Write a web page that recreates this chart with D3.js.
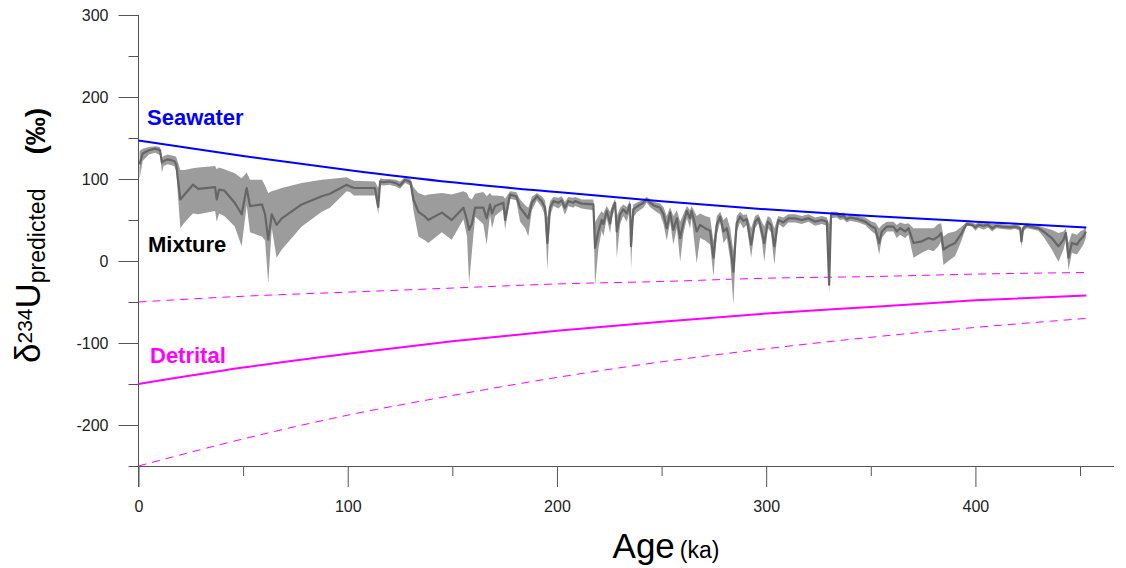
<!DOCTYPE html>
<html>
<head>
<meta charset="utf-8">
<script src="https://cdn.jsdelivr.net/npm/d3@7"></script>
<style>
  body { margin: 0; background: #fff; }
  svg text { font-family: "Liberation Sans", Arial, sans-serif; }
  .axis path, .axis line { stroke: #555; }
  .axis text { font-size: 16px; fill: #222; }
</style>
</head>
<body>
<svg id="chart" width="1126" height="568"></svg>
<script>
  const width = 1126, height = 568;
  const svg = d3.select("#chart");

  // end-member curves (age in ka, value in per mil)
  const curveAge   = [0, 50, 100, 150, 200, 250, 300, 350, 400, 453];
  const seawater   = [147, 128, 111, 96, 84, 73, 63, 55, 48, 41];
  const detrital   = [-150, -130, -113, -98, -85, -74, -64, -56, -48, -42];
  const detritalHi = [-50, -43, -38, -33, -28, -25, -21, -19, -16, -14];
  const detritalLo = [-250, -217, -188, -164, -142, -123, -107, -93, -81, -70];

  // mixture record: age, mean, lower and upper bound
  const mixAge = [0.5, 2, 5, 8, 10.3, 11.2, 12, 14, 17, 18, 20, 22, 26, 28.6, 36.6, 37.4, 38.5, 41, 46, 49.3,
    51.7, 53.3, 59, 60.5, 62, 63.7, 66, 68.5, 78, 87.6, 91.5, 99.5, 101, 103, 113, 114.6, 115.5, 117, 120, 123,
    125, 127.4, 130, 131.4, 133.8, 137, 138.5, 145, 149.7, 155.3, 157, 158, 159.3, 160.9, 164.8, 166.4, 168, 169, 170.4, 174.4,
    175.2, 177.6, 180.5, 182.4, 184.8, 186.3, 188, 190.4, 192.7, 194.3, 195.4, 196.7, 198.3, 200.7, 202.3, 203.8, 205.4, 207.8, 208.7, 211.9,
    217.4, 218.2, 219.8, 221.4, 222.2, 223.8, 225.4, 226.5, 227.8, 228.6, 230.2, 231.7, 233.4, 234.9, 235.4, 236.5, 238.1, 241.3, 242.9, 244.5,
    246.9, 249.3, 250.9, 252.5, 254.1, 255.6, 257.3, 258.9, 260.4, 262.1, 263.6, 264.4, 266.8, 268.4, 270.8, 273.2, 274.8, 276.4, 278, 279.6,
    281.2, 282.8, 284.3, 285.9, 287.5, 289.1, 290.7, 292.8, 294.7, 296.3, 297.9, 299.1, 300.8, 302.3, 303.9, 305.8, 308.2, 310.6, 313.8, 317,
    320.2, 323.4, 326.6, 329, 330.1, 331, 333.7, 335.3, 336.9, 338.5, 340.1, 344.1, 347.3, 350.5, 352.1, 354, 355.3, 357.7, 360.8, 362.4,
    364, 366.4, 368, 370.4, 374.4, 377.6, 380, 382.3, 383.6, 384.7, 387.1, 390.3, 393.5, 395.1, 395.9, 398.3, 400, 401.5, 404, 406,
    408, 410, 412.6, 416.6, 419, 421.4, 422, 422.8, 424.6, 428, 430.1, 432.5, 436.5, 439.7, 442.1, 443.2, 444.5, 446.1, 448.5, 450.1,
    451.6, 452.8];
  const mixMid = [118, 131, 135, 137, 135, 120, 122, 124, 122, 118, 75, 81, 93, 88, 90, 75, 87, 86, 71, 57,
    89, 67, 69, 57, 26, 57, 44, 52, 69, 79, 82, 93, 91, 89, 89, 66, 97, 96, 97, 95,
    92, 99, 96, 75, 60, 54, 50, 59, 50, 65, 50, 38, 45, 65, 65, 52, 69, 58, 67, 71,
    50, 81, 79, 65, 57, 52, 71, 79, 73, 65, 22, 65, 73, 71, 74, 65, 73, 71, 73, 70,
    69, 16, 36, 50, 45, 61, 46, 63, 71, 36, 57, 63, 58, 69, 18, 63, 66, 71, 75, 71,
    67, 65, 57, 40, 59, 38, 52, 28, 46, 61, 52, 61, 36, 44, 40, 37, 4, 44, 54, 36,
    40, 20, -13, 46, 54, 49, 51, 20, 48, 52, 36, 22, 48, 44, 18, 50, 47, 52, 52, 50,
    52, 48, 50, 48, -29, 57, 57, 54, 55, 51, 53, 51, 48, 42, 40, 22, 36, 42, 42, 36,
    40, 36, 40, 22, 24, 28, 26, 30, 34, 14, 18, 22, 34, 42, 45, 44, 41, 44, 43, 44,
    40, 43, 42, 41, 42, 40, 24, 40, 43, 41, 40, 36, 28, 18, 26, 34, 4, 22, 20, 26,
    30, 36];
  const mixLo = [100, 122, 130, 132, 129, 108, 116, 118, 116, 110, 40, 47, 58, 57, 61, 48, 58, 55, 42, 18,
    68, 35, 30, 25, -27, 40, 4, 14, 42, 60, 65, 85, 84, 80, 80, 57, 93, 92, 93, 91,
    88, 95, 92, 62, 30, 25, 22, 35, 26, 51, 30, -27, 10, 54, 45, 20, 56, 40, 55, 63,
    38, 76, 74, 48, 40, 30, 62, 74, 66, 55, -11, 55, 67, 64, 68, 56, 67, 65, 67, 64,
    62, -31, 15, 37, 30, 52, 34, 55, 64, 4, 45, 55, 48, 62, -11, 53, 59, 65, 71, 66,
    61, 57, 45, 25, 48, 20, 40, -1, 33, 52, 40, 52, -3, 28, 25, 20, -19, 32, 48, 22,
    28, 2, -53, 35, 47, 40, 44, 4, 40, 46, 25, -1, 40, 35, -5, 45, 41, 47, 47, 45,
    48, 43, 45, 43, -40, 52, 53, 50, 51, 47, 49, 47, 44, 36, 33, 8, 28, 36, 36, 28,
    32, 28, 32, 4, 10, 14, 12, 18, 24, -5, 0, 6, 26, 38, 43, 42, 37, 41, 38, 41,
    36, 40, 39, 38, 39, 37, 16, 36, 40, 38, 37, 30, 14, -1, 14, 25, -11, 10, 8, 14,
    20, 28];
  const mixHi = [134, 137, 139, 140, 139, 126, 128, 130, 128, 127, 111, 111, 113, 114, 116, 112, 114, 112, 107, 101,
    108, 99, 99, 92, 83, 85, 87, 89, 95, 99, 100, 102, 100, 98, 97, 89, 101, 100, 100, 99,
    97, 102, 100, 90, 83, 80, 81, 83, 81, 85, 83, 77, 75, 82, 84, 79, 83, 80, 80, 79,
    76, 85, 84, 75, 68, 65, 78, 83, 79, 74, 53, 73, 78, 77, 79, 72, 78, 77, 78, 75,
    75, 47, 55, 61, 58, 67, 60, 69, 76, 55, 65, 69, 66, 74, 45, 69, 71, 75, 78, 75,
    72, 70, 66, 55, 66, 55, 62, 48, 57, 67, 62, 67, 55, 58, 55, 53, 24, 55, 60, 50,
    54, 40, 12, 55, 60, 56, 57, 40, 55, 57, 48, 42, 55, 52, 40, 55, 53, 57, 57, 55,
    57, 53, 55, 53, 45, 60, 60, 58, 59, 55, 57, 55, 53, 48, 47, 40, 44, 48, 48, 44,
    47, 45, 46, 40, 40, 40, 40, 45, 46, 30, 34, 36, 42, 46, 48, 47, 45, 47, 46, 47,
    45, 46, 45, 44, 45, 43, 36, 43, 46, 44, 43, 41, 38, 34, 36, 40, 22, 34, 32, 36,
    38, 42];

  const yMajor = [300, 200, 100, 0, -100, -200];
  const yMinor = [250, 150, 50, -50, -150, -250];
  const xMajor = [0, 100, 200, 300, 400];
  const xMinor = [50, 150, 250, 350, 450];

  const x = d3.scaleLinear().domain([0, 466]).range([138.5, 1113.5]);
  const y = d3.scaleLinear().domain([-250, 300]).range([466, 15]);

  // axes (plain hyphen for negatives, like the original)
  svg.append("g").attr("class", "axis")
    .attr("transform", `translate(${x(0)},0)`)
    .call(d3.axisLeft(y).tickValues(yMinor).tickSize(10).tickFormat("").tickSizeOuter(0))
    .select(".domain").remove();
  const yAxis = svg.append("g").attr("class", "axis")
    .attr("transform", `translate(${x(0)},0)`)
    .call(d3.axisLeft(y).tickValues(yMajor).tickSize(20).tickPadding(10)
      .tickFormat(d => String(d)).tickSizeOuter(0));
  yAxis.select(".domain").attr("d", `M0,${y(300)}V${y(-250) + 21}`);

  svg.append("g").attr("class", "axis")
    .attr("transform", `translate(0,${y(-250)})`)
    .call(d3.axisBottom(x).tickValues(xMinor).tickSize(10).tickFormat("").tickSizeOuter(0))
    .select(".domain").remove();
  svg.append("g").attr("class", "axis")
    .attr("transform", `translate(0,${y(-250)})`)
    .call(d3.axisBottom(x).tickValues(xMajor).tickSize(21).tickPadding(14)
      .tickFormat(d => String(d)).tickSizeOuter(0));

  // end-member lines
  const curve = (vals) => d3.line()
    .x((d, i) => x(curveAge[i]))
    .y(d => y(d))
    .curve(d3.curveMonotoneX)(vals);

  svg.append("path").attr("d", curve(detritalHi))
    .attr("fill", "none").attr("stroke", "#ff00ff").attr("stroke-width", 1)
    .attr("stroke-dasharray", "8,6");
  svg.append("path").attr("d", curve(detritalLo))
    .attr("fill", "none").attr("stroke", "#ff00ff").attr("stroke-width", 1)
    .attr("stroke-dasharray", "8,6");

  // mixture band + mean
  const idx = d3.range(mixAge.length);
  svg.append("path").datum(idx)
    .attr("fill", "#9c9c9c")
    .attr("d", d3.area()
      .x(i => x(mixAge[i]))
      .y0(i => y(mixLo[i]))
      .y1(i => y(mixHi[i])));
  svg.append("path").datum(idx)
    .attr("fill", "none").attr("stroke", "#666").attr("stroke-width", 2.2)
    .attr("stroke-linejoin", "round")
    .attr("d", d3.line()
      .x(i => x(mixAge[i]))
      .y(i => y(mixMid[i])));

  svg.append("path").attr("d", curve(seawater))
    .attr("fill", "none").attr("stroke", "#0000ff").attr("stroke-width", 2);
  svg.append("path").attr("d", curve(detrital))
    .attr("fill", "none").attr("stroke", "#ff00ff").attr("stroke-width", 2);

  // labels
  svg.append("text").attr("x", 147).attr("y", 125)
    .attr("fill", "#0000ff").attr("font-weight", "bold").attr("font-size", 22).text("Seawater");
  svg.append("text").attr("x", 148).attr("y", 252)
    .attr("fill", "#000").attr("font-weight", "bold").attr("font-size", 22).text("Mixture");
  svg.append("text").attr("x", 150).attr("y", 363)
    .attr("fill", "#ff00ff").attr("font-weight", "bold").attr("font-size", 22).text("Detrital");

  // axis titles
  const xt = svg.append("text").attr("x", 666).attr("y", 558)
    .attr("text-anchor", "middle").attr("fill", "#000");
  xt.append("tspan").attr("font-size", 35).text("Age");
  xt.append("tspan").attr("font-size", 23).attr("dx", 5).text("(ka)");

  const yt = svg.append("text")
    .attr("transform", "translate(40,363) rotate(-90)")
    .attr("fill", "#000");
  yt.append("tspan").attr("font-size", 35).text("δ");
  yt.append("tspan").attr("font-size", 21).attr("dy", -8).text("234");
  yt.append("tspan").attr("font-size", 35).attr("dy", 8).text("U");
  yt.append("tspan").attr("font-size", 23).attr("dy", 5).text("predicted");
  yt.append("tspan").attr("font-size", 28).attr("font-weight", "bold").attr("dx", 34).text("(‰)");
</script>
</body>
</html>
